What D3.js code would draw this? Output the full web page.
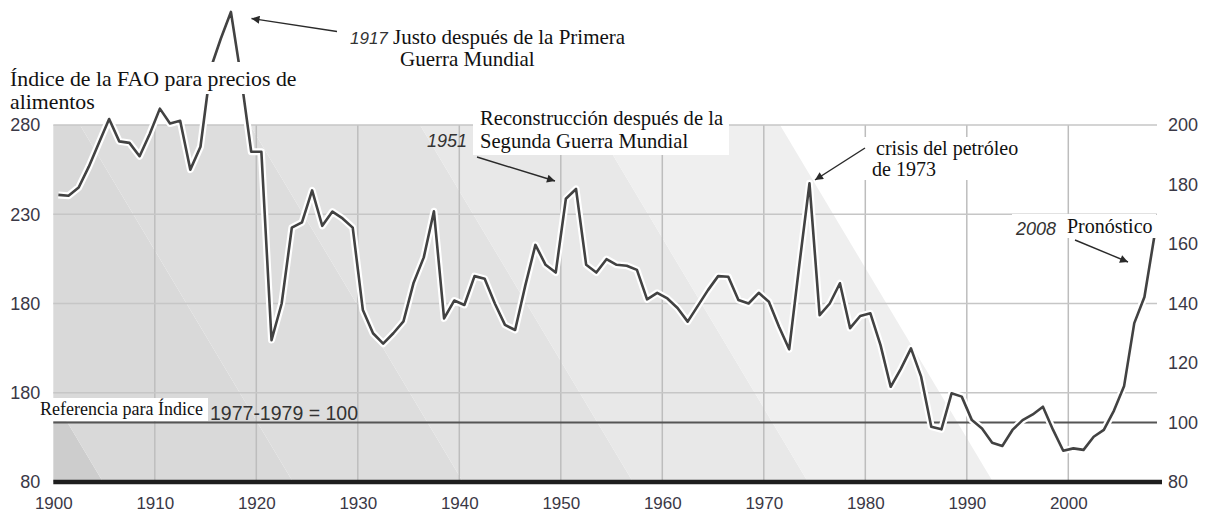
<!DOCTYPE html>
<html>
<head>
<meta charset="utf-8">
<script src="https://cdn.jsdelivr.net/npm/d3@7"></script>
<style>
  body { margin: 0; background: #fff; }
  svg { display: block; }
</style>
</head>
<body>
<script>
// FAO food price index, 1977-1979 = 100
const years = d3.range(1900, 2009);
const foodIndex = [
  176.5, 176.2, 179, 186, 194, 202, 194.5, 194, 189.5, 197,
  205.5, 200.5, 201.4, 185, 192.7, 219, 229, 238, 216, 191,
  191, 127.7, 140, 165.5, 167.3, 178, 166.1, 170.9, 168.6, 165.5,
  137.8, 130, 126.5, 130, 134, 147, 155.5, 171, 135, 141,
  139.5, 149.2, 148.3, 140, 132.8, 131.1, 146, 159.7, 153, 150.4,
  175.2, 178.5, 153, 150.4, 154.9, 153, 152.7, 151.3, 141.4, 143.6,
  141.7, 138.5, 133.9, 139.2, 144.5, 149.2, 149, 141.2, 140, 143.6,
  140.6, 132.2, 124.6, 153, 180.4, 136.1, 140, 146.8, 131.7, 135.8,
  136.7, 126, 112, 118, 124.9, 115.4, 98.6, 97.7, 109.8, 108.7,
  100.8, 98, 93.2, 92.1, 97.5, 100.8, 102.7, 105.3, 97.5, 90.5,
  91.3, 90.8, 95.2, 97.5, 104, 112.3, 133.4, 142.2, 163
];

const decades = d3.range(1900, 2001, 10);
const leftTicks = [80, 130, 180, 230, 280];
const leftTickLabels = ["80", "180", "180", "230", "280"];
const rightTicks = [80, 100, 120, 140, 160, 180, 200];
const baseValue = 100;

const width = 1209;
const height = 513;
const plot = { left: 53.3, right: 1157, top: 125, bottom: 482 };

const serif = "'Liberation Serif', 'Times New Roman', serif";
const sans = "'Liberation Sans', Arial, sans-serif";

const svg = d3.select("body")
  .append("svg")
  .attr("width", width)
  .attr("height", height);

// scales
const x = d3.scaleLinear().domain([1900, 2000]).range([53.3, 1068.3]);
const yRight = d3.scaleLinear().domain([80, 200]).range([plot.bottom, plot.top]);
const yLeft = d3.scaleLinear().domain([80, 280]).range([plot.bottom, plot.top]);

// diagonal grey bands behind the plot
svg.append("clipPath").attr("id", "plotclip")
  .append("rect")
  .attr("x", plot.left).attr("y", plot.top)
  .attr("width", plot.right - plot.left)
  .attr("height", plot.bottom - plot.top);

const bandEdges = [-1000, -110, 80, 250, 420, 595, 780];
const bandColors = ["#cdcdcd", "#d9d9d9", "#dddddd", "#e2e2e2", "#e8e8e8", "#efefef"];
const shift = 213;
const bands = svg.append("g").attr("clip-path", "url(#plotclip)");
bands.append("rect")
  .attr("x", plot.left).attr("y", plot.top)
  .attr("width", plot.right - plot.left)
  .attr("height", plot.bottom - plot.top)
  .attr("fill", "#fff");
bandColors.forEach((c, i) => {
  const l = bandEdges[i], r = bandEdges[i + 1];
  bands.append("polygon")
    .attr("points", [
      [l, plot.top], [r, plot.top], [r + shift, plot.bottom], [l + shift, plot.bottom]
    ].join(" "))
    .attr("fill", c);
});

// grid
const grid = svg.append("g");
grid.selectAll(".vg")
  .data(decades.filter(d => d > 1900))
  .enter().append("line")
  .attr("x1", d => x(d)).attr("x2", d => x(d))
  .attr("y1", plot.top).attr("y2", plot.bottom)
  .attr("stroke", "#bdbdbd").attr("stroke-width", 1.5);
grid.selectAll(".hg")
  .data(leftTicks.filter(d => d > 80))
  .enter().append("line")
  .attr("x1", plot.left).attr("x2", plot.right)
  .attr("y1", d => yLeft(d)).attr("y2", d => yLeft(d))
  .attr("stroke", "#c6c6c6").attr("stroke-width", 1.5);

// 1977-1979 = 100 reference line
svg.append("line")
  .attr("x1", plot.left).attr("x2", plot.right)
  .attr("y1", yRight(baseValue)).attr("y2", yRight(baseValue))
  .attr("stroke", "#555").attr("stroke-width", 2);

// the index line, with a white halo
const data = years.map((yr, i) => ({ year: yr, value: foodIndex[i] }));
const line = d3.line()
  .x(d => x(d.year + 0.5))
  .y(d => yRight(d.value));

svg.append("path").datum(data)
  .attr("d", line)
  .attr("fill", "none")
  .attr("stroke", "#fff")
  .attr("stroke-width", 7)
  .attr("stroke-linejoin", "round");
svg.append("path").datum(data)
  .attr("d", line)
  .attr("fill", "none")
  .attr("stroke", "#424242")
  .attr("stroke-width", 2.6)
  .attr("stroke-linejoin", "round");

// axes
svg.append("line")
  .attr("x1", plot.left).attr("x2", 1162)
  .attr("y1", plot.bottom).attr("y2", plot.bottom)
  .attr("stroke", "#1e1e1e").attr("stroke-width", 4.5);

const labelColor = "#3a3846";

const leftAxis = svg.append("g")
  .attr("transform", `translate(${plot.left},0)`)
  .call(d3.axisLeft(yLeft)
    .tickValues(leftTicks)
    .tickFormat((d, i) => leftTickLabels[i])
    .tickSize(0).tickPadding(13));

const rightAxis = svg.append("g")
  .attr("transform", `translate(${plot.right},0)`)
  .call(d3.axisRight(yRight)
    .tickValues(rightTicks)
    .tickSize(0).tickPadding(11));

const bottomAxis = svg.append("g")
  .attr("transform", `translate(0,${plot.bottom})`)
  .call(d3.axisBottom(x)
    .tickValues(decades)
    .tickFormat(d3.format("d"))
    .tickSize(0).tickPadding(15));

[leftAxis, rightAxis, bottomAxis].forEach(g => {
  g.select(".domain").remove();
  g.selectAll("text")
    .attr("fill", labelColor)
    .style("font-family", sans)
    .style("font-size", "18px");
});
bottomAxis.selectAll("text").style("font-size", "17px");

// annotations
svg.append("defs").append("marker")
  .attr("id", "arrow")
  .attr("viewBox", "0 0 10 10")
  .attr("refX", 10).attr("refY", 5)
  .attr("markerWidth", 11).attr("markerHeight", 8)
  .attr("markerUnits", "userSpaceOnUse")
  .attr("orient", "auto")
  .append("path")
  .attr("d", "M0,0 L10,5 L0,10 z")
  .attr("fill", "#2a2a2a");

function whiteBox(x0, y0, x1, y1) {
  svg.append("rect")
    .attr("x", x0).attr("y", y0)
    .attr("width", x1 - x0).attr("height", y1 - y0)
    .attr("fill", "#fff");
}

function arrow(x0, y0, x1, y1) {
  svg.append("line")
    .attr("x1", x0).attr("y1", y0)
    .attr("x2", x1).attr("y2", y1)
    .attr("stroke", "#2a2a2a").attr("stroke-width", 1.4)
    .attr("marker-end", "url(#arrow)");
}

function label(txt, tx, ty, size, opts = {}) {
  return svg.append("text")
    .attr("x", tx).attr("y", ty)
    .attr("fill", opts.color || "#111")
    .style("font-family", opts.font || serif)
    .style("font-size", size + "px")
    .style("font-style", opts.italic ? "italic" : "normal")
    .text(txt);
}

// title
whiteBox(8, 62, 303, 94);
label("Índice de la FAO para precios de", 10, 86, 21.8);
label("alimentos", 10, 109, 21.8);

// 1917
arrow(337, 31.5, 251.5, 18.5);
label("1917", 350, 44, 17, { font: sans, italic: true, color: "#333" });
label("Justo después de la Primera", 393, 44, 21);
label("Guerra Mundial", 400, 66, 21);

// 1951
whiteBox(473, 103, 729, 155);
label("Reconstrucción después de la", 480, 125, 20.6);
label("Segunda Guerra Mundial", 480, 148, 20.6);
label("1951", 427, 147, 18, { font: sans, italic: true, color: "#333" });
arrow(477, 157, 555, 181);

// 1973
whiteBox(862, 137, 1022, 180);
label("crisis del petróleo", 876, 155, 20);
label("de 1973", 872, 176, 20);
arrow(865, 148, 815, 180);

// 2008
whiteBox(1012, 214, 1156, 238);
label("2008", 1016, 235, 18, { font: sans, italic: true, color: "#333" });
label("Pronóstico", 1067, 233, 20);
arrow(1075, 240, 1128, 262);

// base reference
whiteBox(37, 398, 208, 421);
label("Referencia para Índice", 40, 415, 18);
label("1977-1979 = 100", 210, 420, 19.5, { font: sans, color: "#333" });
</script>
</body>
</html>
